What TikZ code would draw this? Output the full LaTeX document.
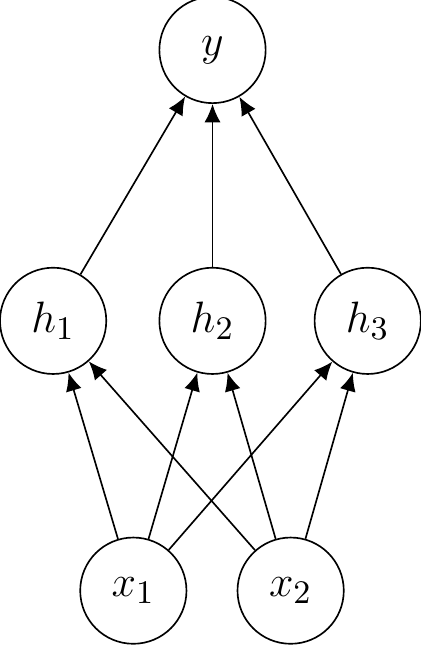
\documentclass[tikz,border=0pt]{standalone}
\usepackage{amsmath,amssymb}
\usepackage{xcolor}
\usepackage{tikz}
\usetikzlibrary{arrows.meta}
\tikzset{
  unit/.style={draw=black, circle, line width=0.45pt, minimum size=1.02cm, inner sep=0pt, font=\fontsize{13}{16}\selectfont},
  conn/.style={draw=black, line width=0.45pt, -{Latex[length=5pt,width=4.4pt]}},
}

\begin{document}
\begin{tikzpicture}
  \useasboundingbox (0,0) rectangle (4.04,6.23);
  \def\ytop{5.75}
  \def\yhid{3.15}
  \def\yin{0.56}

  % input layer
  \node[unit] (x1) at (1.28,\yin) {$x_1$};
  \node[unit] (x2) at (2.79,\yin) {$x_2$};

  % hidden layer
  \node[unit] (h1) at (0.51,\yhid) {$h_1$};
  \node[unit] (h2) at (2.04,\yhid) {$h_2$};
  \node[unit] (h3) at (3.53,\yhid) {$h_3$};

  % output
  \node[unit] (y) at (2.04,\ytop) {$y$};

  \draw[conn] (x1) -- (h1);
  \draw[conn] (x1) -- (h2);
  \draw[conn] (x1) -- (h3);
  \draw[conn] (x2) -- (h1);
  \draw[conn] (x2) -- (h2);
  \draw[conn] (x2) -- (h3);
  \draw[conn] (h1) -- (y);
  \draw[conn] (h2) -- (y);
  \draw[conn] (h3) -- (y);
\end{tikzpicture}
\end{document}
